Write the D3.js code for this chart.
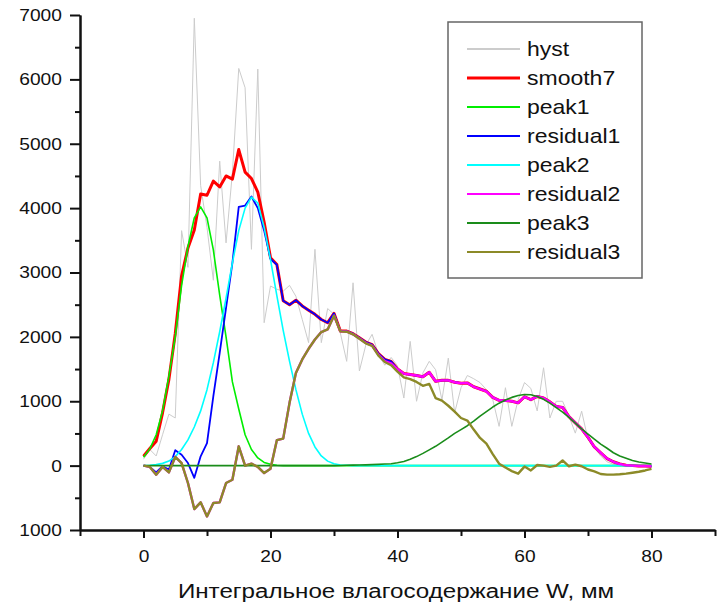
<!DOCTYPE html>
<html>
<head>
<meta charset="utf-8">
<script src="https://cdn.jsdelivr.net/npm/d3@7"></script>
<style>
  body { margin: 0; background: #fff; }
  text { font-family: "Liberation Sans", Arial, sans-serif; fill: #111; }
</style>
</head>
<body>
<div id="chart"></div>
<script>
// W values, mm (one sample per mm)
let wValues = d3.range(0, 81)

let hyst = [100, 250, 150, 480, 800, 740, 3650, 3080, 6950, 4350,
    3700, 2880, 4730, 3460, 4550, 6170, 5870, 3360, 6160, 2220,
    2790, 2740, 2710, 2800, 2630, 2270, 1910, 3360, 1910, 2440,
    2350, 2060, 1620, 2840, 1470, 1870, 2040, 1730, 1560, 1680,
    1550, 1050, 1930, 1000, 1440, 1620, 1490, 1020, 1670, 820,
    1210, 1400, 1350, 1290, 1180, 1025, 610, 1210, 610, 1025,
    1290, 1200, 850, 1520, 740, 1000, 1000, 770, 505, 845,
    405, 280, 150, 60, 20, 10, 5, 0, 0, 0,
    0]

let smooth7 = [145, 265, 380, 820, 1340, 2050, 2950, 3380, 3660, 4220,
    4200, 4420, 4330, 4500, 4450, 4910, 4560, 4460, 4250, 3780,
    3230, 3125, 2560, 2500, 2570, 2480, 2415, 2350, 2270, 2220,
    2365, 2090, 2090, 2050, 1985, 1920, 1880, 1740, 1650, 1620,
    1500, 1430, 1415, 1400, 1380, 1450, 1310, 1325, 1325, 1295,
    1280, 1285, 1225, 1190, 1155, 1060, 1015, 1010, 1000, 975,
    1070, 1025, 1075, 1050, 990, 920, 905, 760, 665, 570,
    440, 290, 200, 110, 60, 25, 5, 0, -5, -5,
    -10]

let peak1 = [130, 260, 480, 850, 1390, 2000, 2800, 3400, 3850, 4020,
    3850, 3350, 2650, 2000, 1300, 880, 480, 250, 120, 50,
    20, 5, 0, 0, 0, 0, 0, 0, 0, 0,
    0, 0, 0, 0, 0, 0, 0, 0, 0, 0,
    0, 0, 0, 0, 0, 0, 0, 0, 0, 0,
    0, 0, 0, 0, 0, 0, 0, 0, 0, 0,
    0, 0, 0, 0, 0, 0, 0, 0, 0, 0,
    0, 0, 0, 0, 0, 0, 0, 0, 0, 0,
    0]

let residual1 = [0, -20, -105, -10, -60, 240, 170, 40, -190, 145,
    350, 1080, 1750, 2450, 3150, 4020, 4040, 4180, 4000, 3650,
    3210, 3120, 2560, 2500, 2570, 2480, 2415, 2350, 2270, 2220,
    2365, 2090, 2090, 2050, 1985, 1920, 1880, 1740, 1650, 1620,
    1500, 1430, 1415, 1400, 1380, 1450, 1310, 1325, 1325, 1295,
    1280, 1285, 1225, 1190, 1155, 1060, 1015, 1010, 1000, 975,
    1070, 1025, 1075, 1050, 990, 920, 905, 760, 665, 570,
    440, 290, 200, 110, 60, 25, 5, 0, -5, -5,
    -10]

let peak2 = [0, 5, 15, 35, 70, 140, 250, 400, 600, 850,
    1180, 1600, 2080, 2600, 3150, 3650, 4000, 4170, 4080, 3700,
    3200, 2640, 2100, 1620, 1180, 800, 500, 290, 150, 70,
    30, 10, 5, 0, 0, 0, 0, 0, 0, 0,
    0, 0, 0, 0, 0, 0, 0, 0, 0, 0,
    0, 0, 0, 0, 0, 0, 0, 0, 0, 0,
    0, 0, 0, 0, 0, 0, 0, 0, 0, 0,
    0, 0, 0, 0, 0, 0, 0, 0, 0, 0,
    0]

let residual2 = [0, -20, -140, -20, -105, 135, 40, -270, -675, -570,
    -790, -580, -570, -270, -220, 300, 0, 30, -20, -115,
    -50, 395, 420, 975, 1440, 1650, 1815, 1960, 2075, 2115,
    2330, 2085, 2085, 2040, 1975, 1905, 1865, 1720, 1625, 1590,
    1500, 1430, 1415, 1400, 1380, 1450, 1310, 1325, 1325, 1295,
    1280, 1285, 1225, 1190, 1155, 1060, 1015, 1010, 1000, 975,
    1070, 1025, 1075, 1050, 990, 920, 905, 760, 665, 570,
    440, 290, 200, 110, 60, 25, 5, 0, -5, -5,
    -10]

let peak3 = [0, 0, 0, 0, 0, 0, 0, 0, 0, 0,
    0, 0, 0, 0, 0, 0, 0, 0, 0, 0,
    0, 0, 0, 0, 0, 0, 0, 0, 0, 0,
    0, 3, 5, 7, 10, 12, 15, 20, 25, 30,
    45, 65, 100, 140, 190, 245, 300, 365, 430, 500,
    560, 620, 690, 770, 840, 910, 970, 1020, 1060, 1090,
    1105, 1100, 1075, 1030, 970, 900, 830, 750, 660, 570,
    490, 410, 335, 270, 200, 150, 115, 80, 55, 40,
    25]

let residual3 = [0, -20, -140, -20, -105, 135, 40, -270, -675, -570,
    -790, -580, -570, -270, -220, 300, 0, 30, -20, -115,
    -50, 395, 420, 975, 1440, 1650, 1815, 1960, 2075, 2115,
    2330, 2085, 2080, 2040, 1970, 1900, 1860, 1710, 1610, 1560,
    1460, 1370, 1345, 1300, 1240, 1270, 1050, 1010, 930, 840,
    740, 700, 560, 430, 340, 180, 30, -30, -85, -125,
    -15, -75, 10, 0, -20, 0, 80, -10, 15, -10,
    -60, -90, -130, -140, -140, -135, -125, -110, -95, -75,
    -50]

let seriesNames = ["hyst", "smooth7", "peak1", "residual1", "peak2", "residual2", "peak3", "residual3"]
let seriesValues = [hyst, smooth7, peak1, residual1, peak2, residual2, peak3, residual3]
let seriesColors = ["#cccccc", "#ff0000", "#00ee00", "#0000ff", "#00ffff", "#ff00ff", "#1a8c1a", "#8c8a28"]
let seriesWidths = [1, 3, 1.6, 1.8, 1.6, 2.4, 1.6, 2.4]

let xTicks = [0, 20, 40, 60, 80]
let xMinorTicks = [-10, 10, 30, 50, 70, 90]
let yTicks = [-1000, 0, 1000, 2000, 3000, 4000, 5000, 6000, 7000]
let yMinorTicks = [-500, 500, 1500, 2500, 3500, 4500, 5500, 6500]
let xTitle = "Интегральное влагосодержание W, мм"

let width = 719, height = 605

let svg = d3.select("#chart")
    .append("svg")
    .attr("width", width)
    .attr("height", height)

let x = d3.scaleLinear().domain([-10, 90]).range([80, 715])
let y = d3.scaleLinear().domain([-1000, 7000]).range([530, 15])

// lines first, axes on top
let line = d3.line()
    .x(function (d) { return x(d[0]) })
    .y(function (d) { return y(d[1]) })

let lines = svg.append("g")
seriesValues.forEach(function (vals, i) {
    lines.append("path")
        .datum(wValues.map(function (w, j) { return [w, vals[j]] }))
        .attr("d", line)
        .attr("fill", "none")
        .attr("stroke", seriesColors[i])
        .attr("stroke-width", seriesWidths[i])
        .attr("stroke-linejoin", "round")
})

// y axis
svg.append("g")
    .attr("transform", "translate(80,0)")
    .call(d3.axisLeft(y).tickValues(yMinorTicks).tickSize(5).tickSizeOuter(0).tickFormat(""))
svg.append("g")
    .attr("class", "yaxis")
    .attr("transform", "translate(80,0)")
    .call(d3.axisLeft(y).tickValues(yTicks).tickSize(10).tickSizeOuter(0).tickPadding(6)
        .tickFormat(function (d) { return Math.abs(d) }))

// x axis
svg.append("g")
    .attr("transform", "translate(0,530)")
    .call(d3.axisBottom(x).tickValues(xMinorTicks).tickSize(6).tickSizeOuter(0).tickFormat(""))
svg.append("g")
    .attr("class", "xaxis")
    .attr("transform", "translate(0,530)")
    .call(d3.axisBottom(x).tickValues(xTicks).tickSize(8).tickSizeOuter(0).tickPadding(12))

svg.selectAll(".domain").attr("stroke", "#111").attr("stroke-width", 2)
svg.selectAll(".tick line").attr("stroke", "#111").attr("stroke-width", 2)
svg.selectAll(".tick text")
    .attr("font-size", 17)
    .attr("font-family", "Liberation Sans, Arial, sans-serif")
    .attr("fill", "#111")
    .attr("transform", "scale(1.13,1)")

svg.append("text")
    .attr("transform", "translate(396,598) scale(1.15,1)")
    .attr("text-anchor", "middle")
    .attr("font-size", 21)
    .text(xTitle)

// legend
let legend = svg.append("g")
legend.append("rect")
    .attr("x", 448)
    .attr("y", 22)
    .attr("width", 194)
    .attr("height", 256)
    .attr("fill", "#fff")
    .attr("stroke", "#666")
    .attr("stroke-width", 1.5)

seriesNames.forEach(function (name, i) {
    let yc = 49 + i * 29
    legend.append("line")
        .attr("x1", 467)
        .attr("x2", 520)
        .attr("y1", yc)
        .attr("y2", yc)
        .attr("stroke", seriesColors[i])
        .attr("stroke-width", i == 1 ? 3 : 2)
    legend.append("text")
        .attr("transform", "translate(527," + yc + ") scale(1.15,1)")
        .attr("dy", "0.35em")
        .attr("font-size", 20)
        .text(name)
})
</script>
</body>
</html>
